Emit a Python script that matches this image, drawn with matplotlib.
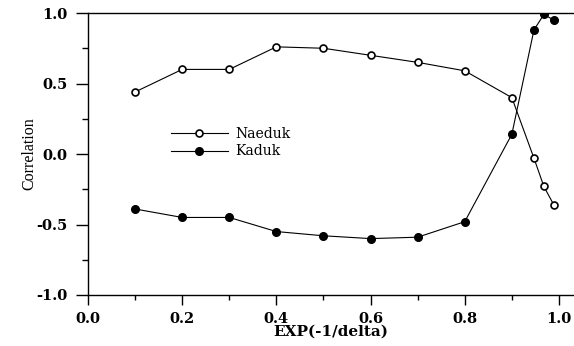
import matplotlib
matplotlib.use('Agg')
import matplotlib.pyplot as plt
from matplotlib.ticker import MultipleLocator, FormatStrFormatter

# values
x_vals = [0.1, 0.2, 0.3, 0.4, 0.5, 0.6, 0.7, 0.8, 0.9, 0.947, 0.968, 0.989]
naeduk = [0.44, 0.60, 0.60, 0.76, 0.75, 0.70, 0.65, 0.59, 0.40, -0.03, -0.23, -0.36]
kaduk = [-0.39, -0.45, -0.45, -0.55, -0.58, -0.60, -0.59, -0.48, 0.14, 0.88, 0.99, 0.95]

plt.rcParams['font.family'] = ['DejaVu Serif']

fig = plt.figure(figsize=(5.74, 3.46), dpi=100)
ax = fig.add_axes([0.1533, 0.1474, 0.8467, 0.815])

ax.plot(x_vals, naeduk, '-o', color='black', lw=0.8, ms=5,
        markerfacecolor='white', markeredgewidth=1.2, label='Naeduk')
ax.plot(x_vals, kaduk, '-o', color='black', lw=0.8, ms=5.5,
        markerfacecolor='black', label='Kaduk')

ax.set_xlim(0, 1.032)
ax.set_ylim(-1.0, 1.0)
ax.xaxis.set_major_locator(MultipleLocator(0.2))
ax.xaxis.set_minor_locator(MultipleLocator(0.1))
ax.yaxis.set_major_locator(MultipleLocator(0.5))
ax.yaxis.set_minor_locator(MultipleLocator(0.25))
ax.xaxis.set_major_formatter(FormatStrFormatter('%.1f'))
ax.yaxis.set_major_formatter(FormatStrFormatter('%.1f'))

ax.spines['right'].set_visible(False)
for s in ['top', 'left', 'bottom']:
    ax.spines[s].set_linewidth(1.0)
ax.tick_params(axis='x', which='major', direction='out', length=7, width=1, pad=5.5)
ax.tick_params(axis='y', which='major', direction='out', length=9, width=1, pad=5.5)
ax.tick_params(axis='x', which='minor', direction='out', length=3.6, width=1)
ax.tick_params(axis='y', which='minor', direction='out', length=4.3, width=1)
for lbl in ax.get_xticklabels() + ax.get_yticklabels():
    lbl.set_fontweight('bold')
    lbl.set_fontsize(10.5)

ax.set_xlabel('EXP(-1/delta)', fontsize=11, fontweight='bold', labelpad=-1)
ax.set_ylabel('Correlation', fontsize=11.5, family=['Liberation Serif', 'DejaVu Serif'])
ax.yaxis.set_label_coords(-0.105, 0.502)

ax.legend(loc='upper left', bbox_to_anchor=(0.170, 0.596), frameon=False,
          handlelength=4.1, fontsize=10, borderpad=0, labelspacing=0.25,
          handletextpad=0.55, borderaxespad=0)

plt.savefig('out.png', dpi=100)
plt.close()
